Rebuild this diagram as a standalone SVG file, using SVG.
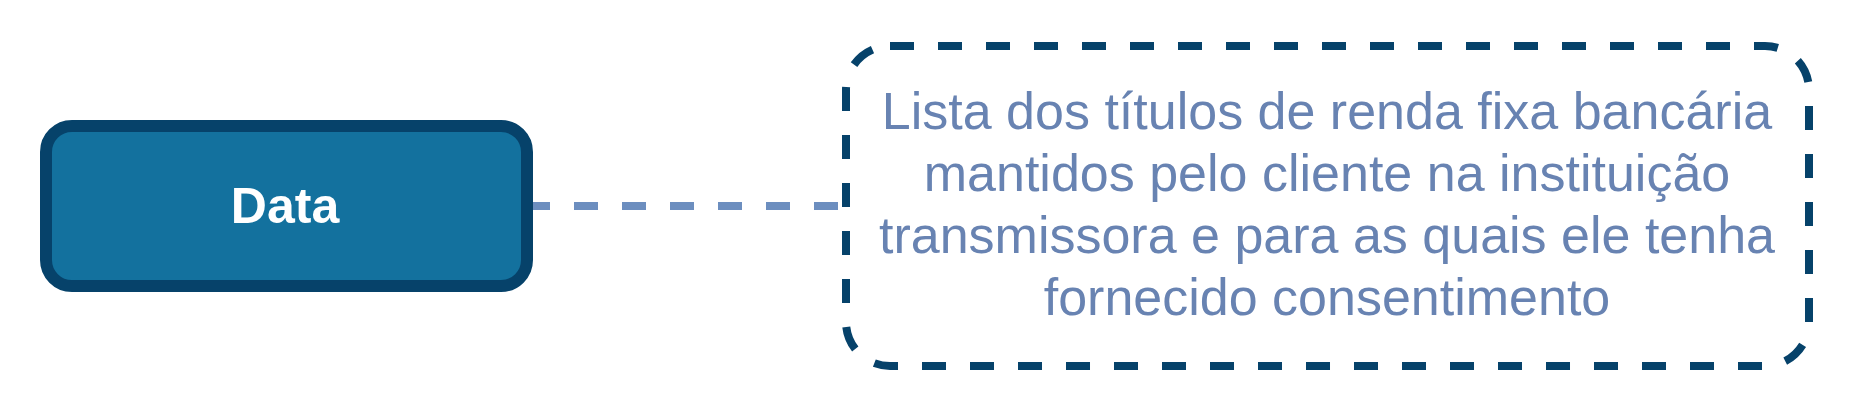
<svg xmlns="http://www.w3.org/2000/svg" width="1852" height="408" viewBox="0 0 1852 408">
  <style>
    .node { fill: #13719E; stroke: #06426A; stroke-width: 12; }
    .note { fill: none; stroke: #06426A; stroke-width: 8; stroke-dasharray: 24 24; }
    .edge { fill: none; stroke: #6C8EBF; stroke-width: 8; stroke-dasharray: 24 24; }
    .label { font-family: "Liberation Sans", Arial, sans-serif; font-weight: bold; font-size: 50px; fill: #FFFFFF; text-anchor: middle; }
    .desc { font-family: "Liberation Sans", Arial, sans-serif; font-size: 52px; fill: #6883B2; text-anchor: middle; }
  </style>
  <rect width="1852" height="408" fill="#FFFFFF"/>
  <g id="connectors">
    <line class="edge" x1="526" y1="206" x2="846" y2="206"/>
  </g>
  <g id="node-data">
    <rect class="node" x="46" y="126" width="481" height="160" rx="26" ry="26"/>
    <text class="label" x="285" y="223">Data</text>
  </g>
  <g id="node-description">
    <rect class="note" x="846" y="46" width="963" height="320" rx="44" ry="44"/>
    <text class="desc" x="1327" y="129">Lista dos títulos de renda fixa bancária</text>
    <text class="desc" x="1327" y="191">mantidos pelo cliente na instituição</text>
    <text class="desc" x="1327" y="253">transmissora e para as quais ele tenha</text>
    <text class="desc" x="1327" y="315">fornecido consentimento</text>
  </g>
</svg>
